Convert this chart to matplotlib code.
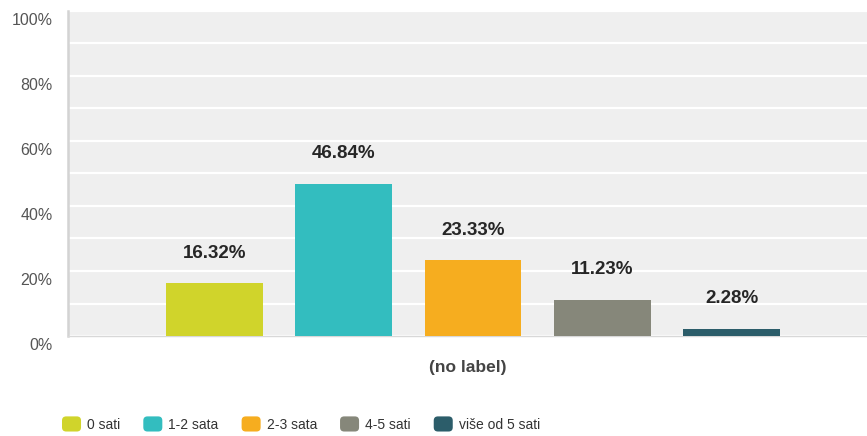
import numpy as np
import matplotlib
matplotlib.use("Agg")
import matplotlib.pyplot as plt
import matplotlib.transforms as mtransforms
from matplotlib.patches import FancyBboxPatch, Patch
from matplotlib.legend_handler import HandlerPatch

plt.rcParams['font.family'] = ['Liberation Sans', 'DejaVu Sans']

# data
categories = ["0 sati", "1-2 sata", "2-3 sata", "4-5 sati", "više od 5 sati"]
values = [16.32, 46.84, 23.33, 11.23, 2.28]
colors = ["#D0D42B", "#33BDBF", "#F6AD1F", "#86877A", "#2C5D6A"]
yticks = [0, 20, 40, 60, 80, 100]
xlabel = "(no label)"

W, H = 867, 436
fig = plt.figure(figsize=(W / 100, H / 100), dpi=100)
ax = fig.add_axes([68 / W, (H - 336) / H, 799 / W, 325 / H])
ax.set_facecolor("#EFEFEF")

x = np.arange(len(values))
bars = ax.bar(x, values, width=0.75, color=colors, zorder=3)
for xi, v in zip(x, values):
    ax.annotate(f"{v:.2f}%", (xi, v), xytext=(0, 21.5), textcoords="offset points",
                ha="center", va="center", fontsize=13.5, fontweight="bold", color="#262626")

ax.set_xlim(-1.133, 5.048)
ax.set_ylim(0, 100)
ax.set_xticks([])
ax.set_yticks(yticks)
ax.set_yticklabels([f"{t}%" for t in yticks])
ax.set_yticks(np.arange(0, 101, 10), minor=True)
ax.tick_params(axis="y", which="both", length=0, pad=11, labelsize=11.5, labelcolor="#555555")
ax.grid(axis="y", which="both", color="white", lw=1.6, zorder=1)

# tick labels sit a bit below their gridlines in the original
shift = mtransforms.ScaledTranslation(0, -8 / 100, fig.dpi_scale_trans)
for lab in ax.get_yticklabels():
    lab.set_transform(lab.get_transform() + shift)

for s in ["top", "right"]:
    ax.spines[s].set_visible(False)
ax.spines["left"].set_color("#D3D3D3")
ax.spines["left"].set_linewidth(1.8)
ax.spines["bottom"].set_color("#D8D8D8")
ax.spines["bottom"].set_linewidth(1.0)

ax.text(0.5, -31 / 325, xlabel, transform=ax.transAxes, ha="center", va="center",
        fontsize=12.5, fontweight="bold", color="#444444")


class RoundHandler(HandlerPatch):
    def create_artists(self, legend, orig_handle, xdescent, ydescent, width, height, fontsize, trans):
        p = FancyBboxPatch((-xdescent, -ydescent), width, height,
                           boxstyle="round,pad=0,rounding_size=3",
                           facecolor=orig_handle.get_facecolor(), edgecolor="none", transform=trans)
        return [p]


handles = [Patch(facecolor=c) for c in colors]
fig.legend(handles, categories, loc="center left", bbox_to_anchor=(62 / W, 1 - 424 / H),
           ncol=5, frameon=False, fontsize=10, borderaxespad=0, borderpad=0,
           handlelength=1.37, handleheight=1.3, handletextpad=0.43, columnspacing=1.66,
           handler_map={Patch: RoundHandler()}, labelcolor="#333333")

fig.savefig("out.png", dpi=100)
